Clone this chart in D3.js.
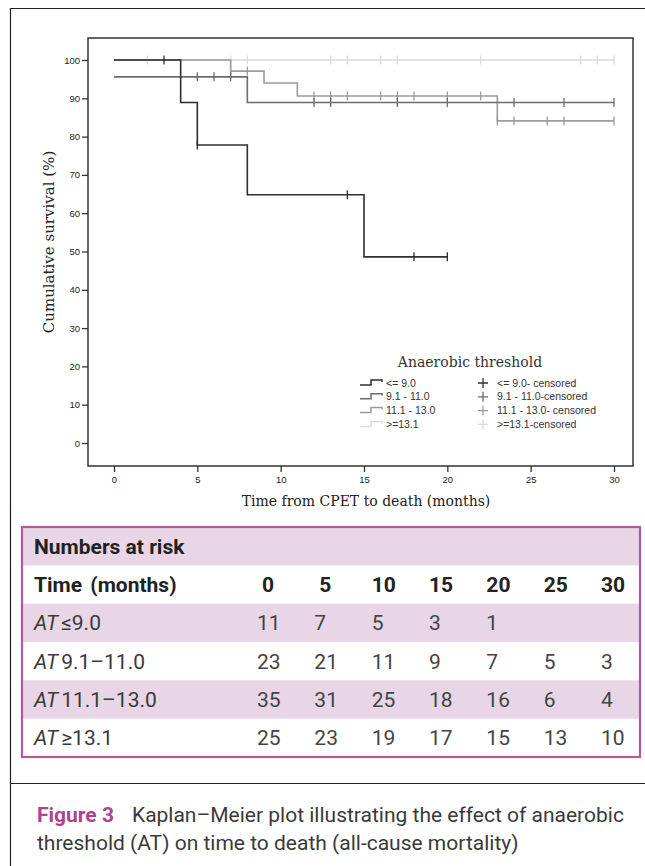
<!DOCTYPE html>
<html><head><meta charset="utf-8">
<script src="https://cdn.jsdelivr.net/npm/d3@7"></script>
<style>body{margin:0;background:#fff}svg{display:block}</style>
</head><body>
<script>
// ---------- DATA ----------
const seriesNames = ["<= 9.0", "9.1 - 11.0", "11.1 - 13.0", ">=13.1"];
const censorNames = ["<= 9.0- censored", "9.1 - 11.0-censored", "11.1 - 13.0- censored", ">=13.1-censored"];
// step points [time, survival %]
const stepsLe9   = [[0,100],[4,88.9],[5,77.8],[8,64.8],[15,48.6],[20,48.6]];
const steps9to11 = [[0,95.6],[8,88.9],[30,88.9]];
const steps11to13= [[0,100],[7,97.1],[9,94.0],[11,90.6],[23,84.1],[30,84.1]];
const stepsGe13  = [[0,100],[30,100]];
// censored times [time, survival %]
const censLe9    = [[3,100],[5,77.8],[14,64.8],[18,48.6],[20,48.6]];
const cens9to11  = [[5,95.6],[6,95.6],[7,95.6],[12,88.9],[13,88.9],[17,88.9],[20,88.9],[24,88.9],[27,88.9],[30,88.9]];
const cens11to13 = [[7,97.1],[8,97.1],[12,90.6],[13,90.6],[14,90.6],[16,90.6],[17,90.6],[18,90.6],[20,90.6],[22,90.6],[23,84.1],[24,84.1],[26,84.1],[27,84.1],[30,84.1]];
const censGe13   = [[2,100],[7,100],[8,100],[13,100],[14,100],[16,100],[17,100],[22,100],[28,100],[29,100],[30,100]];
const xTicks = [0,5,10,15,20,25,30];
const yTicks = [0,10,20,30,40,50,60,70,80,90,100];
// numbers at risk
const riskTimes = [0,5,10,15,20,25,30];
const riskLabels = ["≤9.0","9.1–11.0","11.1–13.0","≥13.1"];
const riskLe9    = [11,7,5,3,1,null,null];
const risk9to11  = [23,21,11,9,7,5,3];
const risk11to13 = [35,31,25,18,16,6,4];
const riskGe13   = [25,23,19,17,15,13,10];

const colors = ["#2e2e2e","#6c6c6c","#9c9c9c","#dadada"];

const W=645,H=866;
const svg=d3.select("body").append("svg").attr("width",W).attr("height",H);

// outer frame
svg.append("path").attr("d","M10.5,866 V8.5 H645").attr("fill","none").attr("stroke","#222").attr("stroke-width",1.2);
svg.append("line").attr("x1",10).attr("x2",645).attr("y1",783.5).attr("y2",783.5).attr("stroke","#222").attr("stroke-width",1.2);

// plot
const fx={l:88,t:38,r:633,b:466};
const x=d3.scaleLinear().domain([0,30]).range([114,614]);
const y=d3.scaleLinear().domain([0,100]).range([443,60]);

svg.append("rect").attr("x",fx.l).attr("y",fx.t).attr("width",fx.r-fx.l).attr("height",fx.b-fx.t)
  .attr("fill","none").attr("stroke","#333").attr("stroke-width",1.5);

const yAx=svg.append("g").attr("transform",`translate(${fx.l},0)`)
  .call(d3.axisLeft(y).tickValues(yTicks).tickSize(6).tickSizeOuter(0).tickFormat(d3.format("d")));
const xAx=svg.append("g").attr("transform",`translate(0,${fx.b})`)
  .call(d3.axisBottom(x).tickValues(xTicks).tickSize(6).tickSizeOuter(0).tickFormat(d3.format("d")));
[yAx,xAx].forEach(a=>{
  a.select(".domain").remove();
  a.selectAll("line").attr("stroke","#333").attr("stroke-width",1.3);
  a.selectAll("text").attr("font-family","Liberation Sans, Arial, sans-serif").attr("font-size",9.5).attr("fill","#222");
});
yAx.selectAll("text").attr("x",-8);
xAx.selectAll("text").attr("y",10);

const serif="DejaVu Serif, Liberation Serif, serif";
// axis titles
svg.append("text").attr("transform",`translate(54,242) rotate(-90)`).attr("text-anchor","middle")
  .attr("font-family",serif).attr("font-size",15).attr("fill","#222")
  .text("Cumulative survival (%)");
svg.append("text").attr("x",366).attr("y",506).attr("text-anchor","middle")
  .attr("font-family",serif).attr("font-size",14).attr("fill","#222")
  .text("Time from CPET to death (months)");

// KM curves
const allSteps=[stepsGe13,steps11to13,steps9to11,stepsLe9];
const allCens=[censGe13,cens11to13,cens9to11,censLe9];
const order=[3,2,1,0];
const line=d3.line().x(d=>x(d[0])).y(d=>y(d[1])).curve(d3.curveStepAfter);
allSteps.forEach((s,i)=>{
  const c=colors[order[i]];
  svg.append("path").datum(s).attr("d",line).attr("fill","none").attr("stroke",c).attr("stroke-width",1.6);
  svg.append("g").selectAll("line").data(allCens[i]).join("line")
    .attr("x1",d=>x(d[0])).attr("x2",d=>x(d[0]))
    .attr("y1",d=>y(d[1])-4.5).attr("y2",d=>y(d[1])+4.5)
    .attr("stroke",c).attr("stroke-width",1.3);
});

// legend
const lg=svg.append("g");
lg.append("text").attr("x",470).attr("y",367).attr("text-anchor","middle")
  .attr("font-family",serif).attr("font-size",14).attr("fill","#333")
  .text("Anaerobic threshold");
seriesNames.forEach((n,i)=>{
  const yy=383+i*13.8;
  lg.append("path").attr("d",`M360,${yy+2} H371 V${yy-3} H382 V${yy-1}`)
    .attr("fill","none").attr("stroke",colors[i]).attr("stroke-width",1.5);
  lg.append("text").attr("x",386).attr("y",yy+3.5).attr("font-family","Liberation Sans, Arial, sans-serif")
    .attr("font-size",10.5).attr("fill","#333").text(n);
  lg.append("path").attr("d",`M483,${yy-5} V${yy+5} M478,${yy} H488`).attr("stroke",colors[i]).attr("stroke-width",1.3);
  lg.append("text").attr("x",497).attr("y",yy+3.5).attr("font-family","Liberation Sans, Arial, sans-serif")
    .attr("font-size",10.5).attr("fill","#333").text(censorNames[i]);
});

// table
const tb={l:22,t:527,r:640,b:757};
const rowH=(tb.b-tb.t)/6;
const pink="#e8d5e6", border="#b25a9e";
[0,2,4].forEach(r=>{
  svg.append("rect").attr("x",tb.l).attr("y",tb.t+r*rowH).attr("width",tb.r-tb.l).attr("height",rowH).attr("fill",pink);
});
svg.append("rect").attr("x",tb.l).attr("y",tb.t).attr("width",tb.r-tb.l).attr("height",tb.b-tb.t)
  .attr("fill","none").attr("stroke",border).attr("stroke-width",2.2);
const colX=d3.scalePoint().domain(riskTimes).range([257,601]);
const tfont="Roboto, Open Sans, sans-serif";
const fs=21;
const ty=r=>tb.t+r*rowH+rowH/2+7.5;
svg.append("text").attr("x",34).attr("y",ty(0)).attr("font-family",tfont).attr("font-weight","bold").attr("font-size",fs).attr("fill","#222").text("Numbers at risk");
svg.append("text").attr("x",34).attr("y",ty(1)).attr("font-family",tfont).attr("font-weight","bold").attr("font-size",fs).attr("fill","#222").attr("word-spacing",3).text("Time (months)");
svg.append("g").selectAll("text").data(riskTimes).join("text")
  .attr("x",d=>colX(d)+(d<10?5:0)).attr("y",ty(1)).attr("font-family",tfont).attr("font-weight","bold").attr("font-size",fs).attr("fill","#222").text(d=>d);
const riskRows=[riskLe9,risk9to11,risk11to13,riskGe13];
riskRows.forEach((row,i)=>{
  const t=svg.append("text").attr("x",34).attr("y",ty(i+2)).attr("font-family",tfont).attr("font-size",fs).attr("fill","#3a3a3a");
  t.append("tspan").attr("font-style","italic").text("AT");
  t.append("tspan").attr("dx",3).text(riskLabels[i]);
  svg.append("g").selectAll("text").data(row.map((v,j)=>[riskTimes[j],v]).filter(d=>d[1]!=null)).join("text")
    .attr("x",d=>colX(d[0])).attr("y",ty(i+2)).attr("font-family",tfont).attr("font-size",fs).attr("fill","#444").text(d=>d[1]);
});

// caption
const cap=svg.append("text").attr("x",37).attr("y",822).attr("font-family",tfont).attr("font-size",21).attr("fill","#3a3a3a");
cap.append("tspan").attr("font-weight","bold").attr("fill","#b0428e").text("Figure 3");
cap.append("tspan").attr("dx",18).text("Kaplan–Meier plot illustrating the effect of anaerobic");
svg.append("text").attr("x",37).attr("y",850).attr("font-family",tfont).attr("font-size",21).attr("fill","#3a3a3a")
  .text("threshold (AT) on time to death (all-cause mortality)");
</script>
</body></html>
